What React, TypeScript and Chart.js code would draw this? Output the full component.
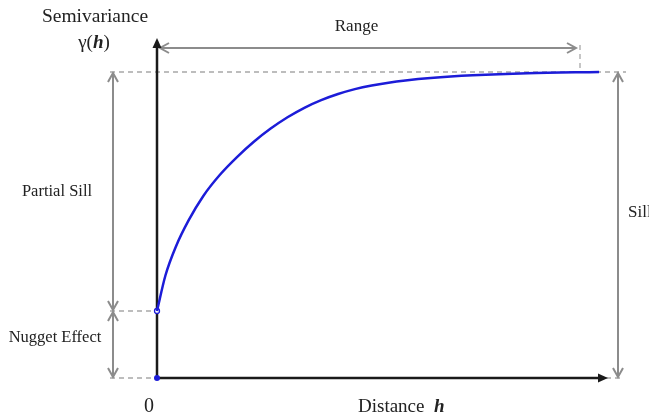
import React, { useEffect, useRef } from "react";
import { Chart, registerables } from "chart.js";

Chart.register(...registerables);

// Semivariogram curve (distance h in units of the range, gamma in units of the sill)
const distance = [0, 0.02, 0.045, 0.075, 0.11, 0.15, 0.19, 0.23, 0.27, 0.31, 0.35, 0.39, 0.43, 0.47, 0.51, 0.55, 0.59, 0.65, 0.75, 0.88, 1.05];
const gamma = [0.219, 0.335, 0.43, 0.515, 0.595, 0.665, 0.722, 0.772, 0.815, 0.852, 0.883, 0.908, 0.928, 0.944, 0.956, 0.965, 0.972, 0.98, 0.989, 0.996, 1.0];
const nugget = 0.219;
const sill = 1.0;
const range = 1.0;
const labels = {
  yTitle: "Semivariance",
  yFn: "γ(",
  h: "h",
  range: "Range",
  partialSill: "Partial Sill",
  nuggetEffect: "Nugget Effect",
  sill: "Sill",
  zero: "0",
  xTitle: "Distance",
};

const SERIF = '"Liberation Serif", "Times New Roman", serif';
const GRAY = "#8c8c8c";
const DASH = "#a8a8a8";

function chevron(ctx: CanvasRenderingContext2D, x: number, y: number, dir: "up" | "down" | "left" | "right") {
  const L = 9, W = 5;
  ctx.beginPath();
  if (dir === "up") { ctx.moveTo(x - W, y + L); ctx.lineTo(x, y); ctx.lineTo(x + W, y + L); }
  if (dir === "down") { ctx.moveTo(x - W, y - L); ctx.lineTo(x, y); ctx.lineTo(x + W, y - L); }
  if (dir === "left") { ctx.moveTo(x + L, y - W); ctx.lineTo(x, y); ctx.lineTo(x + L, y + W); }
  if (dir === "right") { ctx.moveTo(x - L, y - W); ctx.lineTo(x, y); ctx.lineTo(x - L, y + W); }
  ctx.stroke();
}

function dashed(ctx: CanvasRenderingContext2D, x1: number, y1: number, x2: number, y2: number) {
  ctx.save();
  ctx.strokeStyle = DASH;
  ctx.lineWidth = 1.3;
  ctx.setLineDash([5, 4]);
  ctx.beginPath();
  ctx.moveTo(x1, y1);
  ctx.lineTo(x2, y2);
  ctx.stroke();
  ctx.restore();
}

function dblArrowV(ctx: CanvasRenderingContext2D, x: number, yTop: number, yBot: number) {
  ctx.save();
  ctx.strokeStyle = GRAY;
  ctx.lineWidth = 2;
  ctx.beginPath();
  ctx.moveTo(x, yTop);
  ctx.lineTo(x, yBot);
  ctx.stroke();
  chevron(ctx, x, yTop, "up");
  chevron(ctx, x, yBot, "down");
  ctx.restore();
}

function mixedText(ctx: CanvasRenderingContext2D, parts: [string, string][], x: number, y: number, center: boolean) {
  let total = 0;
  for (const [t, f] of parts) { ctx.font = f; total += ctx.measureText(t).width; }
  let tx = center ? x - total / 2 : x;
  ctx.textAlign = "left";
  for (const [t, f] of parts) {
    ctx.font = f;
    ctx.fillText(t, tx, y);
    tx += ctx.measureText(t).width;
  }
}

const diagramPlugin = {
  id: "diagram",
  beforeDatasetsDraw(chart: any) {
    const ctx: CanvasRenderingContext2D = chart.ctx;
    const xs = chart.scales.x;
    const ys = chart.scales.y;
    const x0 = xs.getPixelForValue(0);
    const y0 = ys.getPixelForValue(0);
    const yN = ys.getPixelForValue(nugget);
    const yS = ys.getPixelForValue(sill);
    const xR = xs.getPixelForValue(range);
    const xLeft = x0 - 44;
    const xSill = xs.getPixelForValue(range) + 40;
    const yRange = yS - 24;

    // dashed guides
    dashed(ctx, xLeft - 3, yS, xSill + 8, yS);
    dashed(ctx, xLeft - 3, yN, x0, yN);
    dashed(ctx, xLeft - 3, y0, x0, y0);
    dashed(ctx, xR + 2, yRange - 3, xR + 2, yS);
    dashed(ctx, x0 + 440, y0, xSill + 2, y0);

    // gray arrows
    dblArrowV(ctx, xLeft, yS + 1, yN - 1);
    dblArrowV(ctx, xLeft, yN + 1, y0 - 1);
    dblArrowV(ctx, xSill, yS + 1, y0 - 1);
    ctx.save();
    ctx.strokeStyle = GRAY;
    ctx.lineWidth = 2;
    ctx.beginPath();
    ctx.moveTo(x0 + 3, yRange);
    ctx.lineTo(xR - 2, yRange);
    ctx.stroke();
    chevron(ctx, x0 + 3, yRange, "left");
    chevron(ctx, xR - 2, yRange, "right");
    ctx.restore();

    // axes
    ctx.save();
    ctx.strokeStyle = "#1a1a1a";
    ctx.fillStyle = "#1a1a1a";
    ctx.lineWidth = 2.5;
    const yTop = yS - 34;
    const xEnd = x0 + 451;
    ctx.beginPath();
    ctx.moveTo(x0, y0);
    ctx.lineTo(x0, yTop + 6);
    ctx.moveTo(x0, y0);
    ctx.lineTo(xEnd - 6, y0);
    ctx.stroke();
    ctx.beginPath();
    ctx.moveTo(x0, yTop);
    ctx.lineTo(x0 - 4.5, yTop + 10);
    ctx.lineTo(x0 + 4.5, yTop + 10);
    ctx.closePath();
    ctx.fill();
    ctx.beginPath();
    ctx.moveTo(xEnd, y0);
    ctx.lineTo(xEnd - 10, y0 - 4.5);
    ctx.lineTo(xEnd - 10, y0 + 4.5);
    ctx.closePath();
    ctx.fill();
    ctx.restore();

    // text
    ctx.save();
    ctx.fillStyle = "#222";
    ctx.textBaseline = "middle";
    ctx.textAlign = "center";
    ctx.font = `19.5px ${SERIF}`;
    ctx.fillText(labels.yTitle, x0 - 62, yS - 55);
    mixedText(
      ctx,
      [[labels.yFn, `19px ${SERIF}`], [labels.h, `bold italic 19px ${SERIF}`], [")", `19px ${SERIF}`]],
      x0 - 63,
      yS - 29,
      true
    );

    ctx.textAlign = "center";
    ctx.font = `17px ${SERIF}`;
    ctx.fillText(labels.range, (x0 + xR) / 2 - 11, yRange - 21);
    ctx.font = `16.5px ${SERIF}`;
    ctx.fillText(labels.partialSill, xLeft - 56, (yS + yN) / 2);
    ctx.fillText(labels.nuggetEffect, xLeft - 58, (yN + y0) / 2 - 7);
    ctx.textAlign = "left";
    ctx.font = `17px ${SERIF}`;
    ctx.fillText(labels.sill, xSill + 10, (yS + y0) / 2 - 12);

    ctx.textAlign = "center";
    ctx.font = `20px ${SERIF}`;
    ctx.fillText(labels.zero, x0 - 8, y0 + 29);
    mixedText(
      ctx,
      [[labels.xTitle + "  ", `19px ${SERIF}`], [labels.h, `bold italic 19px ${SERIF}`]],
      x0 + 201,
      y0 + 29,
      false
    );
    ctx.restore();
  },
};

export default function App() {
  const ref = useRef<HTMLCanvasElement>(null);
  useEffect(() => {
    if (!ref.current) return;
    const W = 649, H = 420;
    // map the full canvas: origin at (157, 378), range at x=578, sill at y=72
    const pxPerX = 421, pxPerY = 306;
    const chart = new Chart(ref.current, {
      type: "scatter",
      data: {
        datasets: [
          {
            data: distance.map((d, i) => ({ x: d, y: gamma[i] })),
            showLine: true,
            borderColor: "#1c1cd8",
            borderWidth: 2.5,
            pointRadius: 0,
            cubicInterpolationMode: "monotone",
            clip: false,
          } as any,
          {
            data: [{ x: 0, y: nugget }],
            pointRadius: 2.5,
            borderWidth: 1.3,
            borderColor: "#1c1cd8",
            backgroundColor: "#ffffff",
            clip: false,
          } as any,
          {
            data: [{ x: 0, y: 0 }],
            pointRadius: 3,
            borderWidth: 0,
            backgroundColor: "#1c1cd8",
            clip: false,
          } as any,
        ],
      },
      options: {
        animation: false,
        responsive: false,
        maintainAspectRatio: false,
        layout: { padding: 0, autoPadding: false } as any,
        plugins: { legend: { display: false }, tooltip: { enabled: false } },
        scales: {
          x: { type: "linear", display: false, min: -157 / pxPerX, max: (W - 157) / pxPerX },
          y: { type: "linear", display: false, min: -(H - 378) / pxPerY, max: 378 / pxPerY },
        },
      },
      plugins: [diagramPlugin],
    });
    return () => chart.destroy();
  }, []);
  return (
    <div style={{ position: "fixed", left: 0, top: 0, width: 649, height: 420, background: "#fff" }}>
      <canvas ref={ref} width={649} height={420} style={{ width: 649, height: 420, display: "block" }} />
    </div>
  );
}
